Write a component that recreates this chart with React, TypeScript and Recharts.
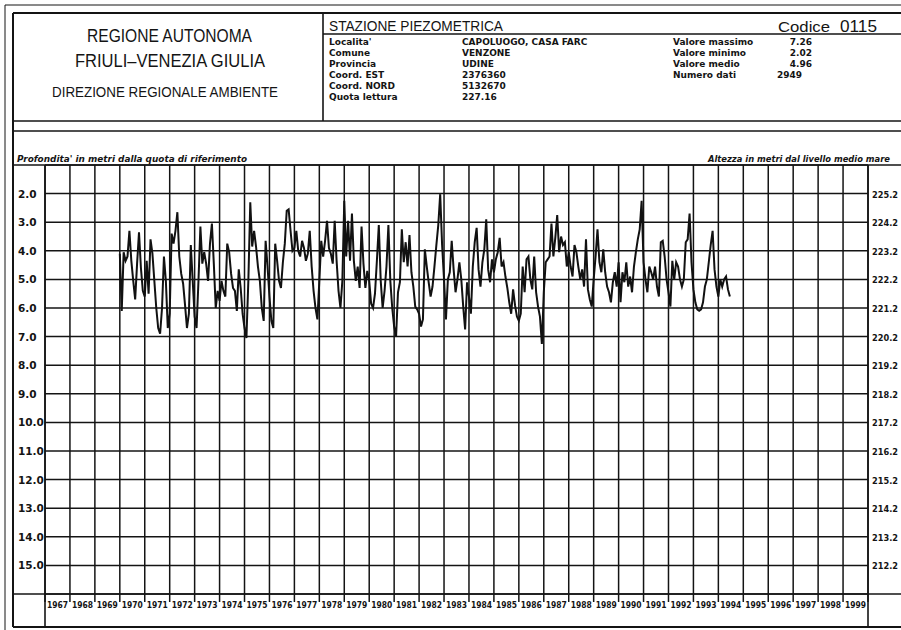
import { LineChart, Line, XAxis, YAxis, CartesianGrid } from 'recharts';

// depth below reference point (m), readings per year, evenly spaced
const d1970 = [4.1, 6.1, 4.05, 4.35, 4.2, 3.3, 4.35, 5.05, 5.7, 4.45, 3.35, 4.6, 5.4];
const d1971 = [5.6, 4.35, 5.5, 3.6, 4.1, 5.05, 6.0, 6.7, 6.9, 6.0, 4.2, 5.05, 6.7];
const d1972 = [6.2, 3.4, 3.75, 3.3, 2.65, 4.2, 4.8, 5.15, 5.9, 6.7, 6.2, 3.8, 5.05];
const d1973 = [6.3, 6.7, 5.05, 3.15, 4.45, 4.05, 4.45, 5.05, 3.75, 3.05, 4.45, 6.0, 5.4];
const d1974 = [5.75, 5.05, 5.4, 5.6, 3.75, 4.05, 4.8, 5.3, 5.4, 6.1, 4.65, 5.3, 6.2];
const d1975 = [6.7, 7.05, 5.05, 2.3, 3.85, 3.3, 3.85, 4.55, 5.05, 6.0, 6.45, 3.65, 4.55];
const d1976 = [5.6, 6.45, 6.7, 3.75, 4.35, 5.05, 5.3, 4.4, 3.75, 2.6, 2.55, 3.3, 4.0];
const d1977 = [3.9, 3.3, 4.0, 4.2, 3.65, 3.9, 4.35, 4.1, 3.3, 4.55, 5.4, 6.0, 6.4];
const d1978 = [5.05, 3.65, 4.2, 3.65, 2.95, 3.9, 4.1, 4.45, 2.95, 4.35, 5.4, 6.0, 5.05];
const d1979 = [2.25, 4.2, 2.95, 4.35, 2.7, 4.35, 5.05, 4.55, 5.3, 3.15, 4.45, 5.3, 4.7];
const d1980 = [5.05, 5.85, 6.0, 5.5, 4.35, 3.1, 5.05, 6.0, 5.4, 4.55, 3.1, 5.05, 6.0];
const d1981 = [6.65, 7.0, 5.45, 5.1, 3.25, 4.4, 3.7, 4.55, 3.45, 4.75, 5.25, 5.95, 6.05];
const d1982 = [6.2, 6.65, 6.4, 3.95, 4.55, 5.1, 5.6, 5.25, 4.55, 3.8, 3.1, 2.02, 3.8];
const d1983 = [5.0, 6.4, 5.0, 4.75, 3.65, 4.65, 5.45, 5.0, 4.4, 5.0, 5.95, 6.75, 5.1];
const d1984 = [5.6, 6.2, 4.55, 3.7, 3.2, 4.65, 5.25, 4.4, 3.95, 2.9, 4.65, 5.1, 4.3];
const d1985 = [4.75, 4.3, 4.05, 3.55, 4.55, 4.4, 4.9, 5.3, 5.8, 6.2, 5.35, 5.9, 6.3];
const d1986 = [6.45, 6.2, 4.55, 5.45, 4.3, 4.2, 5.0, 5.35, 4.2, 5.45, 5.95, 6.3, 7.26];
const d1987 = [5.45, 4.4, 4.3, 4.2, 3.05, 4.2, 3.55, 2.75, 4.05, 3.5, 3.8, 3.7, 4.55];
const d1988 = [4.05, 4.55, 4.9, 3.8, 4.05, 4.55, 5.0, 4.65, 5.25, 3.6, 5.35, 5.7, 5.95];
const d1989 = [5.0, 4.2, 3.25, 4.4, 4.75, 3.95, 4.75, 5.25, 5.45, 5.8, 5.1, 4.75, 5.25];
const d1990 = [4.4, 5.8, 4.75, 5.1, 4.4, 5.25, 4.9, 5.45, 4.55, 4.05, 3.6, 3.25, 2.25];
const d1991 = [4.4, 5.0, 5.45, 4.55, 4.75, 5.0, 4.55, 5.25, 5.6, 3.7, 3.65, 4.2, 5.0];
const d1992 = [5.45, 5.95, 4.35, 5.0, 4.4, 4.55, 5.0, 5.25, 5.0, 3.7, 3.6, 2.7, 4.4];
const d1993 = [5.35, 5.8, 6.05, 6.1, 6.05, 5.8, 5.25, 5.0, 4.4, 3.8, 3.3, 4.65, 5.25];
const d1994 = [5.6, 5.0, 5.25, 5.0, 4.9, 5.35, 5.6];

const dataYears = [1970, 1971, 1972, 1973, 1974, 1975, 1976, 1977, 1978, 1979, 1980, 1981,
  1982, 1983, 1984, 1985, 1986, 1987, 1988, 1989, 1990, 1991, 1992, 1993, 1994];
const yearReadings = [d1970, d1971, d1972, d1973, d1974, d1975, d1976, d1977, d1978, d1979,
  d1980, d1981, d1982, d1983, d1984, d1985, d1986, d1987, d1988, d1989, d1990, d1991,
  d1992, d1993, d1994];
const STEP = 1 / 13;

const yearTicks = [1967, 1968, 1969, 1970, 1971, 1972, 1973, 1974, 1975, 1976, 1977, 1978,
  1979, 1980, 1981, 1982, 1983, 1984, 1985, 1986, 1987, 1988, 1989, 1990, 1991, 1992,
  1993, 1994, 1995, 1996, 1997, 1998, 1999, 2000];
const depthTicks = [1, 2, 3, 4, 5, 6, 7, 8, 9, 10, 11, 12, 13, 14, 15, 16];
// altitude above mean sea level for the same grid lines
const altitudeTicks = ['', '225.2', '224.2', '223.2', '222.2', '221.2', '220.2', '219.2', '218.2',
  '217.2', '216.2', '215.2', '214.2', '213.2', '212.2', ''];

const stationLabels = ["Localita'", 'Comune', 'Provincia', 'Coord. EST', 'Coord. NORD', 'Quota lettura'];
const stationValues = ['CAPOLUOGO, CASA FARC', 'VENZONE', 'UDINE', '2376360', '5132670', '227.16'];
const statLabels = ['Valore massimo', 'Valore minimo', 'Valore medio', 'Numero dati'];
const statValues = ['7.26', '2.02', '4.96', '2949'];

const W = 901;
const H = 630;
const PLOT_L = 45;
const PLOT_R = 868;
const COL = (PLOT_R - PLOT_L) / (yearTicks.length - 1);
const INK = '#141414';
const SANS = '"Liberation Sans", Arial, sans-serif';
const WIDE = '"DejaVu Sans", Verdana, sans-serif';

const chartData = dataYears.flatMap((y, k) =>
  yearReadings[k].map((v, i) => ({ t: y + i * STEP, depth: v }))
);

function YearTick({ x, payload }: any) {
  if (payload.value >= 2000) return <g />;
  return (
    <text x={x + COL / 2} y={608} textAnchor="middle" fontFamily={WIDE} fontWeight="bold"
      fontSize={8} fill={INK} textLength={21} lengthAdjust="spacingAndGlyphs">
      {payload.value}
    </text>
  );
}

function DepthTick({ y, payload, index }: any) {
  if (payload.value < 2 || payload.value > 15) return <g />;
  return (
    <g fontFamily={WIDE} fontWeight="bold" fill={INK}>
      <text x={18} y={y + 4} fontSize={10.5}>{payload.value.toFixed(1)}</text>
      <text x={872} y={y + 4} fontSize={9.5} textLength={26} lengthAdjust="spacingAndGlyphs">
        {altitudeTicks[index]}
      </text>
    </g>
  );
}

function Frame() {
  const lines: [number, number, number, number, number][] = [
    [5, 5, W, 5, 1],
    [5, 5, 5, H, 1],
    [13, 13, W, 13, 2],
    [13, 13, 13, 627, 2],
    [13, 627, W, 627, 2],
    [13, 121, W, 121, 1.6],
    [323, 13, 323, 121, 1.6],
    [323, 34, W, 34, 1.4],
    [13, 131, W, 131, 1.6],
    [13, 165, W, 165, 1.6],
    [13, 594, W, 594, 1.6],
    [PLOT_L, 165, PLOT_L, 627, 1.6],
    [PLOT_R, 165, PLOT_R, 627, 1.6],
  ];
  return (
    <svg width={W} height={H} style={{ position: 'absolute', left: 0, top: 0, pointerEvents: 'none' }}>
      {lines.map(([x1, y1, x2, y2, w], i) => (
        <line key={i} x1={x1} y1={y1} x2={x2} y2={y2} stroke={INK} strokeWidth={w} />
      ))}
      <g fontFamily={SANS} fill={INK}>
        <text x={87} y={42} fontSize={18} textLength={165} lengthAdjust="spacingAndGlyphs">REGIONE AUTONOMA</text>
        <text x={75} y={67} fontSize={18} textLength={190} lengthAdjust="spacingAndGlyphs">FRIULI–VENEZIA GIULIA</text>
        <text x={52} y={97} fontSize={14} textLength={226} lengthAdjust="spacingAndGlyphs">DIREZIONE REGIONALE AMBIENTE</text>
        <text x={329} y={31} fontSize={14} textLength={174} lengthAdjust="spacingAndGlyphs">STAZIONE PIEZOMETRICA</text>
        <text x={778} y={32} fontSize={15} textLength={52} lengthAdjust="spacingAndGlyphs">Codice</text>
        <text x={840} y={32} fontSize={17} textLength={37} lengthAdjust="spacingAndGlyphs">0115</text>
      </g>
      <g fontFamily={WIDE} fill={INK} fontSize={9} fontWeight="bold">
        {stationLabels.map((s, i) => (
          <text key={s} x={329} y={45 + i * 11}>{s}</text>
        ))}
        {stationValues.map((s, i) => (
          <text key={s} x={462} y={45 + i * 11}>{s}</text>
        ))}
        {statLabels.map((s, i) => (
          <text key={s} x={673} y={45 + i * 11}>{s}</text>
        ))}
        {statValues.map((s, i) => (
          <text key={s} x={i === 3 ? 802 : 812} y={45 + i * 11} textAnchor="end">{s}</text>
        ))}
        <text x={17} y={162} fontSize={9} fontStyle="italic" textLength={230}
          lengthAdjust="spacingAndGlyphs">Profondita' in metri dalla quota di riferimento</text>
        <text x={708} y={162} fontSize={8.5} fontStyle="italic" textLength={182}
          lengthAdjust="spacingAndGlyphs">Altezza in metri dal livello medio mare</text>
      </g>
    </svg>
  );
}

export default function App() {
  return (
    <div style={{ position: 'absolute', left: 0, top: 0, width: W, height: H, background: '#fff' }}>
      <LineChart width={W} height={H} data={chartData}
        margin={{ top: 165, right: W - PLOT_R, bottom: 0, left: 0 }}>
        <CartesianGrid stroke={INK} strokeWidth={1.5} />
        <XAxis
          dataKey="t"
          type="number"
          domain={[1967, 2000]}
          ticks={yearTicks}
          interval={0}
          height={36}
          axisLine={false}
          tickLine={{ stroke: INK, strokeWidth: 1.5 }}
          tickSize={8}
          tick={<YearTick />}
        />
        <YAxis
          type="number"
          domain={[1, 16]}
          reversed
          ticks={depthTicks}
          interval={0}
          width={PLOT_L}
          axisLine={false}
          tickLine={false}
          tick={<DepthTick />}
        />
        <Line
          dataKey="depth"
          type="linear"
          stroke="#111"
          strokeWidth={2}
          dot={false}
          isAnimationActive={false}
        />
      </LineChart>
      <Frame />
    </div>
  );
}
